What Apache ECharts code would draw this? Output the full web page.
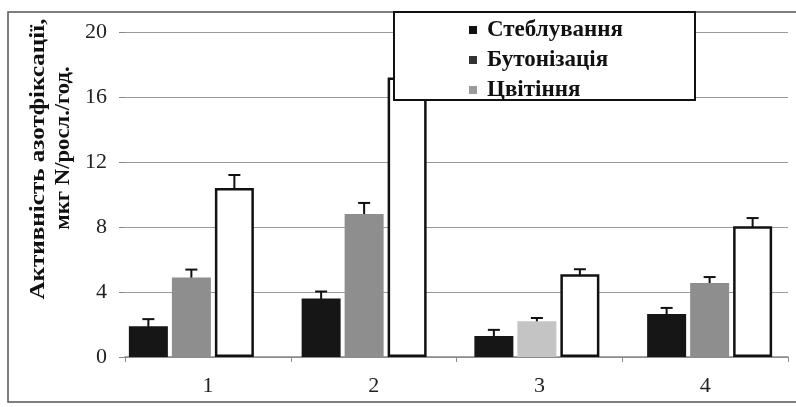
<!DOCTYPE html>
<html><head><meta charset="utf-8">
<script src="https://cdn.jsdelivr.net/npm/echarts@6/dist/echarts.min.js"></script>
<style>html,body{margin:0;padding:0;background:#fff}#c{width:796px;height:407px}</style>
</head><body><div id="c"></div>
<script>
const categories = ['1', '2', '3', '4'];
const seriesNames = ['Стеблування', 'Бутонізація', 'Цвітіння'];
const stemValues = [1.9, 3.6, 1.3, 2.65];
const stemErrors = [0.43, 0.43, 0.37, 0.37];
const budValues = [4.9, 8.8, 2.2, 4.55];
const budErrors = [0.48, 0.68, 0.2, 0.37];
const flowerValues = [10.4, 17.2, 5.1, 8.05];
const flowerErrors = [0.8, 0.9, 0.3, 0.5];
const yTicks = { min: 0, max: 20, interval: 4 };
const axisTitle = ['Активність азотфіксації,', 'мкг N/росл./год.'];

const FONT = '"Liberation Serif", "DejaVu Serif", serif';
const BAR_W = 39, BAR_STEP = 43;
const offsets = [-BAR_STEP, 0, BAR_STEP];
const values = [stemValues, budValues, flowerValues];
const errors = [stemErrors, budErrors, flowerErrors];
const barStyles = [
  { color: '#161616' },
  { color: '#8e8e8e' },
  { color: '#ffffff', borderColor: '#111', borderWidth: 2.5 }
];
const legendColors = ['#111', '#333', '#9a9a9a'];

const series = [];
values.forEach((vals, s) => {
  series.push({
    name: seriesNames[s], type: 'bar', barWidth: BAR_W, barGap: ((BAR_STEP - BAR_W) / BAR_W * 100) + '%',
    xAxisIndex: 1, yAxisIndex: 1,
    itemStyle: barStyles[s], z: 2,
    data: vals.map((v, i) => (s === 1 && i === 2) ? { value: v, itemStyle: { color: '#c4c4c4' } } : v)
  });
});
values.forEach((vals, s) => {
  series.push({
    type: 'custom', z: 2, silent: true, xAxisIndex: 1, yAxisIndex: 1,
    data: vals.map((v, i) => [i, v, errors[s][i]]),
    renderItem: function (params, api) {
      const ci = api.value(0), v = api.value(1), e = api.value(2);
      const top = api.coord([ci, v + e]);
      const bot = api.coord([ci, v - e]);
      const x = top[0] + offsets[s];
      const hw = 6;
      const st = { stroke: '#111', lineWidth: 2 };
      return { type: 'group', children: [
        { type: 'line', shape: { x1: x, y1: top[1], x2: x, y2: bot[1] }, style: st },
        { type: 'line', shape: { x1: x - hw, y1: top[1], x2: x + hw, y2: top[1] }, style: st },
        { type: 'line', shape: { x1: x - hw, y1: bot[1], x2: x + hw, y2: bot[1] }, style: st }
      ]};
    }
  });
});

const chart = echarts.init(document.getElementById('c'));
chart.setOption({
  animation: false,
  backgroundColor: '#fff',
  grid: [
    { left: 125, right: 8, top: 32, bottom: 50 },
    { left: 105, width: 701, top: 32, bottom: 50 }
  ],
  legend: {
    orient: 'vertical', left: 469, top: 17, itemGap: 4, padding: 0,
    itemWidth: 8, itemHeight: 8, icon: 'rect', z: 10,
    textStyle: { fontFamily: FONT, fontSize: 23, fontWeight: 'bold', color: '#111', lineHeight: 26, padding: [0, 0, 0, 5] },
    data: seriesNames.map((n, i) => ({ name: n, itemStyle: { color: legendColors[i], borderWidth: 0 } }))
  },
  xAxis: [{
    type: 'category', data: categories, gridIndex: 0,
    axisLine: { lineStyle: { color: '#888', width: 1.5 } },
    axisTick: { show: true, length: 5, lineStyle: { color: '#888' } },
    axisLabel: { fontFamily: FONT, fontSize: 22, color: '#222', margin: 18 }
  }, {
    type: 'category', data: categories, gridIndex: 1, show: false
  }],
  yAxis: [{
    type: 'value', gridIndex: 0, min: yTicks.min, max: yTicks.max, interval: yTicks.interval,
    axisLine: { show: false },
    axisTick: { show: true, length: 6, lineStyle: { color: '#888' } },
    axisLabel: { fontFamily: FONT, fontSize: 22, color: '#222', margin: 18 },
    splitLine: { lineStyle: { color: '#9a9a9a', width: 1.2 } }
  }, {
    type: 'value', gridIndex: 1, min: yTicks.min, max: yTicks.max, interval: yTicks.interval, show: false
  }],
  graphic: [
    { type: 'rect', z: 0, shape: { x: 8, y: 12, width: 800, height: 390 },
      style: { fill: 'none', stroke: '#555', lineWidth: 1.5 } },
    { type: 'rect', z: 5, shape: { x: 394, y: 12, width: 301, height: 88 },
      style: { fill: '#fff', stroke: '#111', lineWidth: 2 } },
    { type: 'text', z: 5, x: 38, y: 159, rotation: Math.PI / 2, scaleX: 1.14,
      style: { text: axisTitle[0], font: 'bold 22px ' + FONT, fill: '#111', textAlign: 'center', textVerticalAlign: 'middle' } },
    { type: 'text', z: 5, x: 63, y: 148, rotation: Math.PI / 2, scaleX: 1.03,
      style: { text: axisTitle[1], font: 'bold 22px ' + FONT, fill: '#111', textAlign: 'center', textVerticalAlign: 'middle' } }
  ],
  series: series
});
</script></body></html>
